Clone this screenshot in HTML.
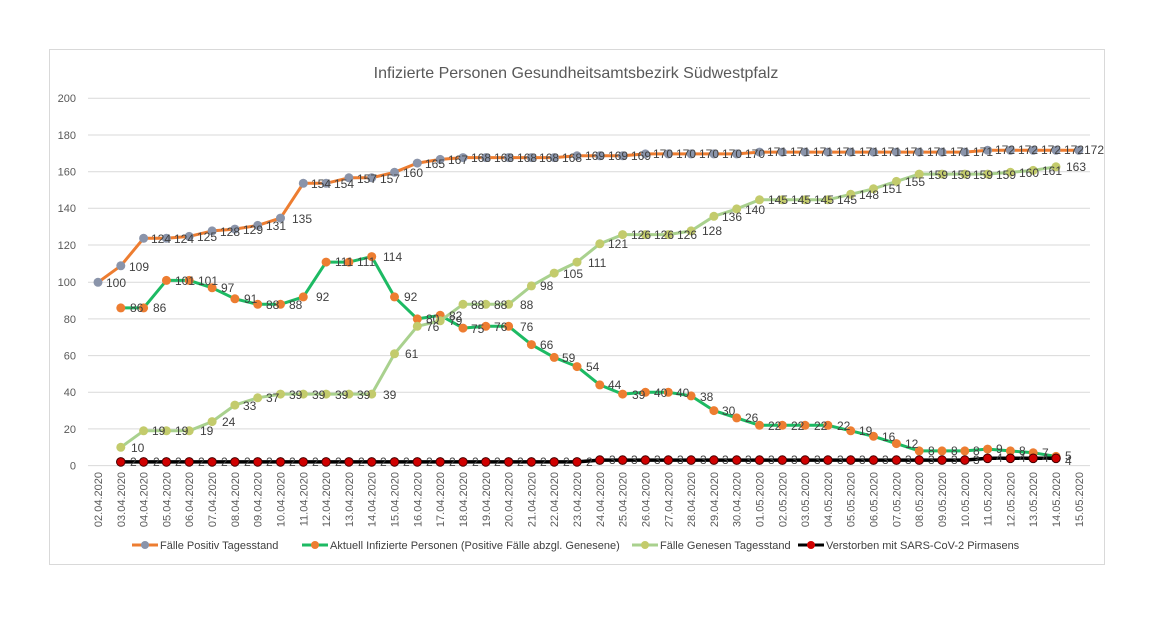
<!DOCTYPE html>
<html><head><meta charset="utf-8"><style>
html,body{margin:0;padding:0;background:#fff;}
svg{display:block;font-family:"Liberation Sans",sans-serif;}
</style></head><body>
<svg width="1164" height="623" viewBox="0 0 1164 623" xmlns="http://www.w3.org/2000/svg">
<defs>
<marker id="mg" markerUnits="userSpaceOnUse" markerWidth="12" markerHeight="12" refX="6" refY="6"><circle cx="6" cy="6" r="4.5" fill="#8A94AA"/></marker>
<marker id="mo" markerUnits="userSpaceOnUse" markerWidth="12" markerHeight="12" refX="6" refY="6"><circle cx="6" cy="6" r="4.5" fill="#ED7D31"/></marker>
<marker id="my" markerUnits="userSpaceOnUse" markerWidth="12" markerHeight="12" refX="6" refY="6"><circle cx="6" cy="6" r="4.5" fill="#C3CB6C"/></marker>
<marker id="mr" markerUnits="userSpaceOnUse" markerWidth="12" markerHeight="12" refX="6" refY="6"><circle cx="6" cy="6" r="4.3" fill="#D00000" stroke="#400" stroke-width="1"/></marker>
</defs>
<rect x="49.5" y="49.5" width="1055" height="515" fill="#fff" stroke="#d9d9d9"/>
<text x="576" y="78" text-anchor="middle" font-size="16" fill="#595959">Infizierte Personen Gesundheitsamtsbezirk Südwestpfalz</text>
<g stroke="#d9d9d9" stroke-width="1">
<line x1="88" x2="1090" y1="98.3" y2="98.3"/><line x1="88" x2="1090" y1="135" y2="135"/><line x1="88" x2="1090" y1="171.7" y2="171.7"/><line x1="88" x2="1090" y1="208.3" y2="208.3"/><line x1="88" x2="1090" y1="245" y2="245"/><line x1="88" x2="1090" y1="282.3" y2="282.3"/><line x1="88" x2="1090" y1="318.9" y2="318.9"/><line x1="88" x2="1090" y1="355.6" y2="355.6"/><line x1="88" x2="1090" y1="392.3" y2="392.3"/><line x1="88" x2="1090" y1="428.9" y2="428.9"/><line x1="88" x2="1090" y1="465.6" y2="465.6"/>
</g>
<g font-size="11" fill="#595959" text-anchor="end">
<text x="76" y="102">200</text><text x="76" y="139">180</text><text x="76" y="175.5">160</text><text x="76" y="212">140</text><text x="76" y="249">120</text><text x="76" y="286">100</text><text x="76" y="323">80</text><text x="76" y="359.5">60</text><text x="76" y="396">40</text><text x="76" y="433">20</text><text x="76" y="469.5">0</text>
</g>
<g font-size="11" fill="#595959" text-anchor="end">
<text transform="translate(102,472) rotate(-90)">02.04.2020</text>
<text transform="translate(124.8,472) rotate(-90)">03.04.2020</text>
<text transform="translate(147.6,472) rotate(-90)">04.04.2020</text>
<text transform="translate(170.4,472) rotate(-90)">05.04.2020</text>
<text transform="translate(193.2,472) rotate(-90)">06.04.2020</text>
<text transform="translate(216.1,472) rotate(-90)">07.04.2020</text>
<text transform="translate(238.9,472) rotate(-90)">08.04.2020</text>
<text transform="translate(261.7,472) rotate(-90)">09.04.2020</text>
<text transform="translate(284.5,472) rotate(-90)">10.04.2020</text>
<text transform="translate(307.3,472) rotate(-90)">11.04.2020</text>
<text transform="translate(330.1,472) rotate(-90)">12.04.2020</text>
<text transform="translate(352.9,472) rotate(-90)">13.04.2020</text>
<text transform="translate(375.7,472) rotate(-90)">14.04.2020</text>
<text transform="translate(398.5,472) rotate(-90)">15.04.2020</text>
<text transform="translate(421.3,472) rotate(-90)">16.04.2020</text>
<text transform="translate(444.2,472) rotate(-90)">17.04.2020</text>
<text transform="translate(467,472) rotate(-90)">18.04.2020</text>
<text transform="translate(489.8,472) rotate(-90)">19.04.2020</text>
<text transform="translate(512.6,472) rotate(-90)">20.04.2020</text>
<text transform="translate(535.4,472) rotate(-90)">21.04.2020</text>
<text transform="translate(558.2,472) rotate(-90)">22.04.2020</text>
<text transform="translate(581,472) rotate(-90)">23.04.2020</text>
<text transform="translate(603.8,472) rotate(-90)">24.04.2020</text>
<text transform="translate(626.6,472) rotate(-90)">25.04.2020</text>
<text transform="translate(649.4,472) rotate(-90)">26.04.2020</text>
<text transform="translate(672.3,472) rotate(-90)">27.04.2020</text>
<text transform="translate(695.1,472) rotate(-90)">28.04.2020</text>
<text transform="translate(717.9,472) rotate(-90)">29.04.2020</text>
<text transform="translate(740.7,472) rotate(-90)">30.04.2020</text>
<text transform="translate(763.5,472) rotate(-90)">01.05.2020</text>
<text transform="translate(786.3,472) rotate(-90)">02.05.2020</text>
<text transform="translate(809.1,472) rotate(-90)">03.05.2020</text>
<text transform="translate(831.9,472) rotate(-90)">04.05.2020</text>
<text transform="translate(854.7,472) rotate(-90)">05.05.2020</text>
<text transform="translate(877.5,472) rotate(-90)">06.05.2020</text>
<text transform="translate(900.4,472) rotate(-90)">07.05.2020</text>
<text transform="translate(923.2,472) rotate(-90)">08.05.2020</text>
<text transform="translate(946,472) rotate(-90)">09.05.2020</text>
<text transform="translate(968.8,472) rotate(-90)">10.05.2020</text>
<text transform="translate(991.6,472) rotate(-90)">11.05.2020</text>
<text transform="translate(1014.4,472) rotate(-90)">12.05.2020</text>
<text transform="translate(1037.2,472) rotate(-90)">13.05.2020</text>
<text transform="translate(1060,472) rotate(-90)">14.05.2020</text>
<text transform="translate(1082.8,472) rotate(-90)">15.05.2020</text>
</g>
<!-- Orange: Fälle Positiv -->
<polyline fill="none" stroke="#ED7D31" stroke-width="3" stroke-linejoin="round" marker-start="url(#mg)" marker-mid="url(#mg)" marker-end="url(#mg)" points="98,282.3 120.8,265.8 143.6,238.3 166.4,238.3 189.2,236.4 212.1,230.9 234.9,229.1 257.7,225.4 280.5,218.1 303.3,183.3 326.1,183.3 348.9,177.8 371.7,177.8 394.5,172.3 417.3,163.1 440.2,159.4 463,157.6 485.8,157.6 508.6,157.6 531.4,157.6 554.2,157.6 577,155.8 599.8,155.8 622.6,155.8 645.4,153.9 668.3,153.9 691.1,153.9 713.9,153.9 736.7,153.9 759.5,152.1 782.3,152.1 805.1,152.1 827.9,152.1 850.7,152.1 873.5,152.1 896.4,152.1 919.2,152.1 942,152.1 964.8,152.1 987.6,150.3 1010.4,150.3 1033.2,150.3 1056,150.3 1078.8,150.3"/>
<!-- Green: Aktuell -->
<polyline fill="none" stroke="#1DBA63" stroke-width="3" stroke-linejoin="round" marker-start="url(#mo)" marker-mid="url(#mo)" marker-end="url(#mo)" points="120.8,307.9 143.6,307.9 166.4,280.4 189.2,280.4 212.1,287.8 234.9,298.8 257.7,304.3 280.5,304.3 303.3,296.9 326.1,262.1 348.9,262.1 371.7,256.6 394.5,296.9 417.3,318.9 440.2,315.3 463,328.1 485.8,326.3 508.6,326.3 531.4,344.6 554.2,357.4 577,366.6 599.8,384.9 622.6,394.1 645.4,392.3 668.3,392.3 691.1,395.9 713.9,410.6 736.7,417.9 759.5,425.3 782.3,425.3 805.1,425.3 827.9,425.3 850.7,430.8 873.5,436.3 896.4,443.6 919.2,450.9 942,450.9 964.8,450.9 987.6,449.1 1010.4,450.9 1033.2,452.8 1056,456.4"/>
<!-- Genesen -->
<polyline fill="none" stroke="#A9D18E" stroke-width="3" stroke-linejoin="round" marker-start="url(#my)" marker-mid="url(#my)" marker-end="url(#my)" points="120.8,447.3 143.6,430.8 166.4,430.8 189.2,430.8 212.1,421.6 234.9,405.1 257.7,397.8 280.5,394.1 303.3,394.1 326.1,394.1 348.9,394.1 371.7,394.1 394.5,353.8 417.3,326.3 440.2,320.8 463,304.3 485.8,304.3 508.6,304.3 531.4,285.9 554.2,273.1 577,262.1 599.8,243.8 622.6,234.6 645.4,234.6 668.3,234.6 691.1,230.9 713.9,216.3 736.7,208.9 759.5,199.8 782.3,199.8 805.1,199.8 827.9,199.8 850.7,194.3 873.5,188.8 896.4,181.4 919.2,174.1 942,174.1 964.8,174.1 987.6,174.1 1010.4,172.3 1033.2,170.4 1056,166.8"/>
<!-- Verstorben -->
<polyline fill="none" stroke="#000" stroke-width="3.5" stroke-linejoin="round" marker-start="url(#mr)" marker-mid="url(#mr)" marker-end="url(#mr)" points="120.8,461.9 143.6,461.9 166.4,461.9 189.2,461.9 212.1,461.9 234.9,461.9 257.7,461.9 280.5,461.9 303.3,461.9 326.1,461.9 348.9,461.9 371.7,461.9 394.5,461.9 417.3,461.9 440.2,461.9 463,461.9 485.8,461.9 508.6,461.9 531.4,461.9 554.2,461.9 577,461.9 599.8,460.1 622.6,460.1 645.4,460.1 668.3,460.1 691.1,460.1 713.9,460.1 736.7,460.1 759.5,460.1 782.3,460.1 805.1,460.1 827.9,460.1 850.7,460.1 873.5,460.1 896.4,460.1 919.2,460.1 942,460.1 964.8,460.1 987.6,458.3 1010.4,458.3 1033.2,458.3 1056,458.3"/>
<g font-size="12" fill="#404040">
<!-- orange labels -->
<text x="106" y="287">100</text><text x="129" y="271">109</text><text x="151" y="243">124</text><text x="174" y="243">124</text><text x="197" y="241">125</text><text x="220" y="236">128</text><text x="243" y="234">129</text><text x="266" y="230">131</text><text x="292" y="223">135</text><text x="311" y="188">154</text><text x="334" y="188">154</text><text x="357" y="183">157</text><text x="380" y="183">157</text><text x="403" y="177">160</text><text x="425" y="168">165</text><text x="448" y="164">167</text><text x="471" y="162">168</text><text x="494" y="162">168</text><text x="517" y="162">168</text><text x="539" y="162">168</text><text x="562" y="162">168</text><text x="585" y="160">169</text><text x="608" y="160">169</text><text x="631" y="160">169</text><text x="653" y="158">170</text><text x="676" y="158">170</text><text x="699" y="158">170</text><text x="722" y="158">170</text><text x="745" y="158">170</text><text x="767" y="156">171</text><text x="790" y="156">171</text><text x="813" y="156">171</text><text x="836" y="156">171</text><text x="859" y="156">171</text><text x="881" y="156">171</text><text x="904" y="156">171</text><text x="927" y="156">171</text><text x="950" y="156">171</text><text x="973" y="156">171</text><text x="995" y="154">172</text><text x="1018" y="154">172</text><text x="1041" y="154">172</text><text x="1064" y="154">172</text><text x="1084" y="154">172</text>
<!-- green labels -->
<text x="130" y="312">86</text><text x="153" y="312">86</text><text x="175" y="285">101</text><text x="198" y="285">101</text><text x="221" y="292">97</text><text x="244" y="303">91</text><text x="266" y="309">88</text><text x="289" y="309">88</text><text x="316" y="301">92</text><text x="335" y="266">111</text><text x="357" y="266">111</text><text x="383" y="261">114</text><text x="404" y="301">92</text><text x="426" y="323">80</text><text x="449" y="320">82</text><text x="471" y="333">75</text><text x="494" y="331">76</text><text x="520" y="331">76</text><text x="540" y="349">66</text><text x="562" y="362">59</text><text x="586" y="371">54</text><text x="608" y="389">44</text><text x="632" y="399">39</text><text x="654" y="397">40</text><text x="676" y="397">40</text><text x="700" y="401">38</text><text x="722" y="415">30</text><text x="745" y="422">26</text><text x="768" y="430">22</text><text x="791" y="430">22</text><text x="814" y="430">22</text><text x="837" y="430">22</text><text x="859" y="435">19</text><text x="882" y="441">16</text><text x="905" y="448">12</text><text x="928" y="455">8</text><text x="951" y="455">8</text><text x="973" y="455">8</text><text x="996" y="453">9</text><text x="1019" y="455">8</text><text x="1042" y="457">7</text><text x="1065" y="460">5</text>
<!-- genesen labels -->
<text x="131" y="452">10</text><text x="152" y="435">19</text><text x="175" y="435">19</text><text x="200" y="435">19</text><text x="222" y="426">24</text><text x="243" y="410">33</text><text x="266" y="402">37</text><text x="289" y="399">39</text><text x="312" y="399">39</text><text x="335" y="399">39</text><text x="357" y="399">39</text><text x="383" y="399">39</text><text x="405" y="358">61</text><text x="426" y="331">76</text><text x="449" y="325">79</text><text x="471" y="309">88</text><text x="494" y="309">88</text><text x="520" y="309">88</text><text x="540" y="290">98</text><text x="563" y="278">105</text><text x="588" y="267">111</text><text x="608" y="248">121</text><text x="631" y="239">126</text><text x="654" y="239">126</text><text x="677" y="239">126</text><text x="702" y="235">128</text><text x="722" y="221">136</text><text x="745" y="214">140</text><text x="768" y="204">145</text><text x="791" y="204">145</text><text x="814" y="204">145</text><text x="837" y="204">145</text><text x="859" y="199">148</text><text x="882" y="193">151</text><text x="905" y="186">155</text><text x="928" y="179">159</text><text x="951" y="179">159</text><text x="973" y="179">159</text><text x="996" y="179">159</text><text x="1019" y="177">160</text><text x="1042" y="175">161</text><text x="1066" y="171">163</text>
<!-- verstorben labels -->
<text x="130" y="466">2</text><text x="153" y="466">2</text><text x="175" y="466">2</text><text x="198" y="466">2</text><text x="221" y="466">2</text><text x="244" y="466">2</text><text x="266" y="466">2</text><text x="289" y="466">2</text><text x="312" y="466">2</text><text x="335" y="466">2</text><text x="358" y="466">2</text><text x="380" y="466">2</text><text x="403" y="466">2</text><text x="426" y="466">2</text><text x="449" y="466">2</text><text x="472" y="466">2</text><text x="494" y="466">2</text><text x="517" y="466">2</text><text x="540" y="466">2</text><text x="563" y="466">2</text><text x="586" y="466">2</text><text x="609" y="464">3</text><text x="631" y="464">3</text><text x="654" y="464">3</text><text x="677" y="464">3</text><text x="700" y="464">3</text><text x="722" y="464">3</text><text x="745" y="464">3</text><text x="768" y="464">3</text><text x="791" y="464">3</text><text x="814" y="464">3</text><text x="837" y="464">3</text><text x="859" y="464">3</text><text x="882" y="464">3</text><text x="905" y="464">3</text><text x="928" y="464">3</text><text x="951" y="464">3</text><text x="973" y="464">3</text><text x="996" y="462">4</text><text x="1019" y="462">4</text><text x="1042" y="462">4</text><text x="1065" y="465">4</text>
</g>
<!-- legend -->
<g font-size="11" fill="#404040">
<line x1="132" x2="158" y1="545" y2="545" stroke="#ED7D31" stroke-width="3"/><circle cx="145" cy="545" r="4" fill="#8A94AA"/>
<text x="160" y="549">Fälle Positiv Tagesstand</text>
<line x1="302" x2="328" y1="545" y2="545" stroke="#1DBA63" stroke-width="3"/><circle cx="315" cy="545" r="4" fill="#ED7D31"/>
<text x="330" y="549">Aktuell Infizierte Personen (Positive Fälle abzgl. Genesene)</text>
<line x1="632" x2="658" y1="545" y2="545" stroke="#A9D18E" stroke-width="3"/><circle cx="645" cy="545" r="4" fill="#C3CB6C"/>
<text x="660" y="549">Fälle Genesen Tagesstand</text>
<line x1="798" x2="824" y1="545" y2="545" stroke="#000" stroke-width="3"/><circle cx="811" cy="545" r="4" fill="#D00000"/>
<text x="826" y="549">Verstorben mit SARS-CoV-2 Pirmasens</text>
</g>
</svg>
</body></html>
